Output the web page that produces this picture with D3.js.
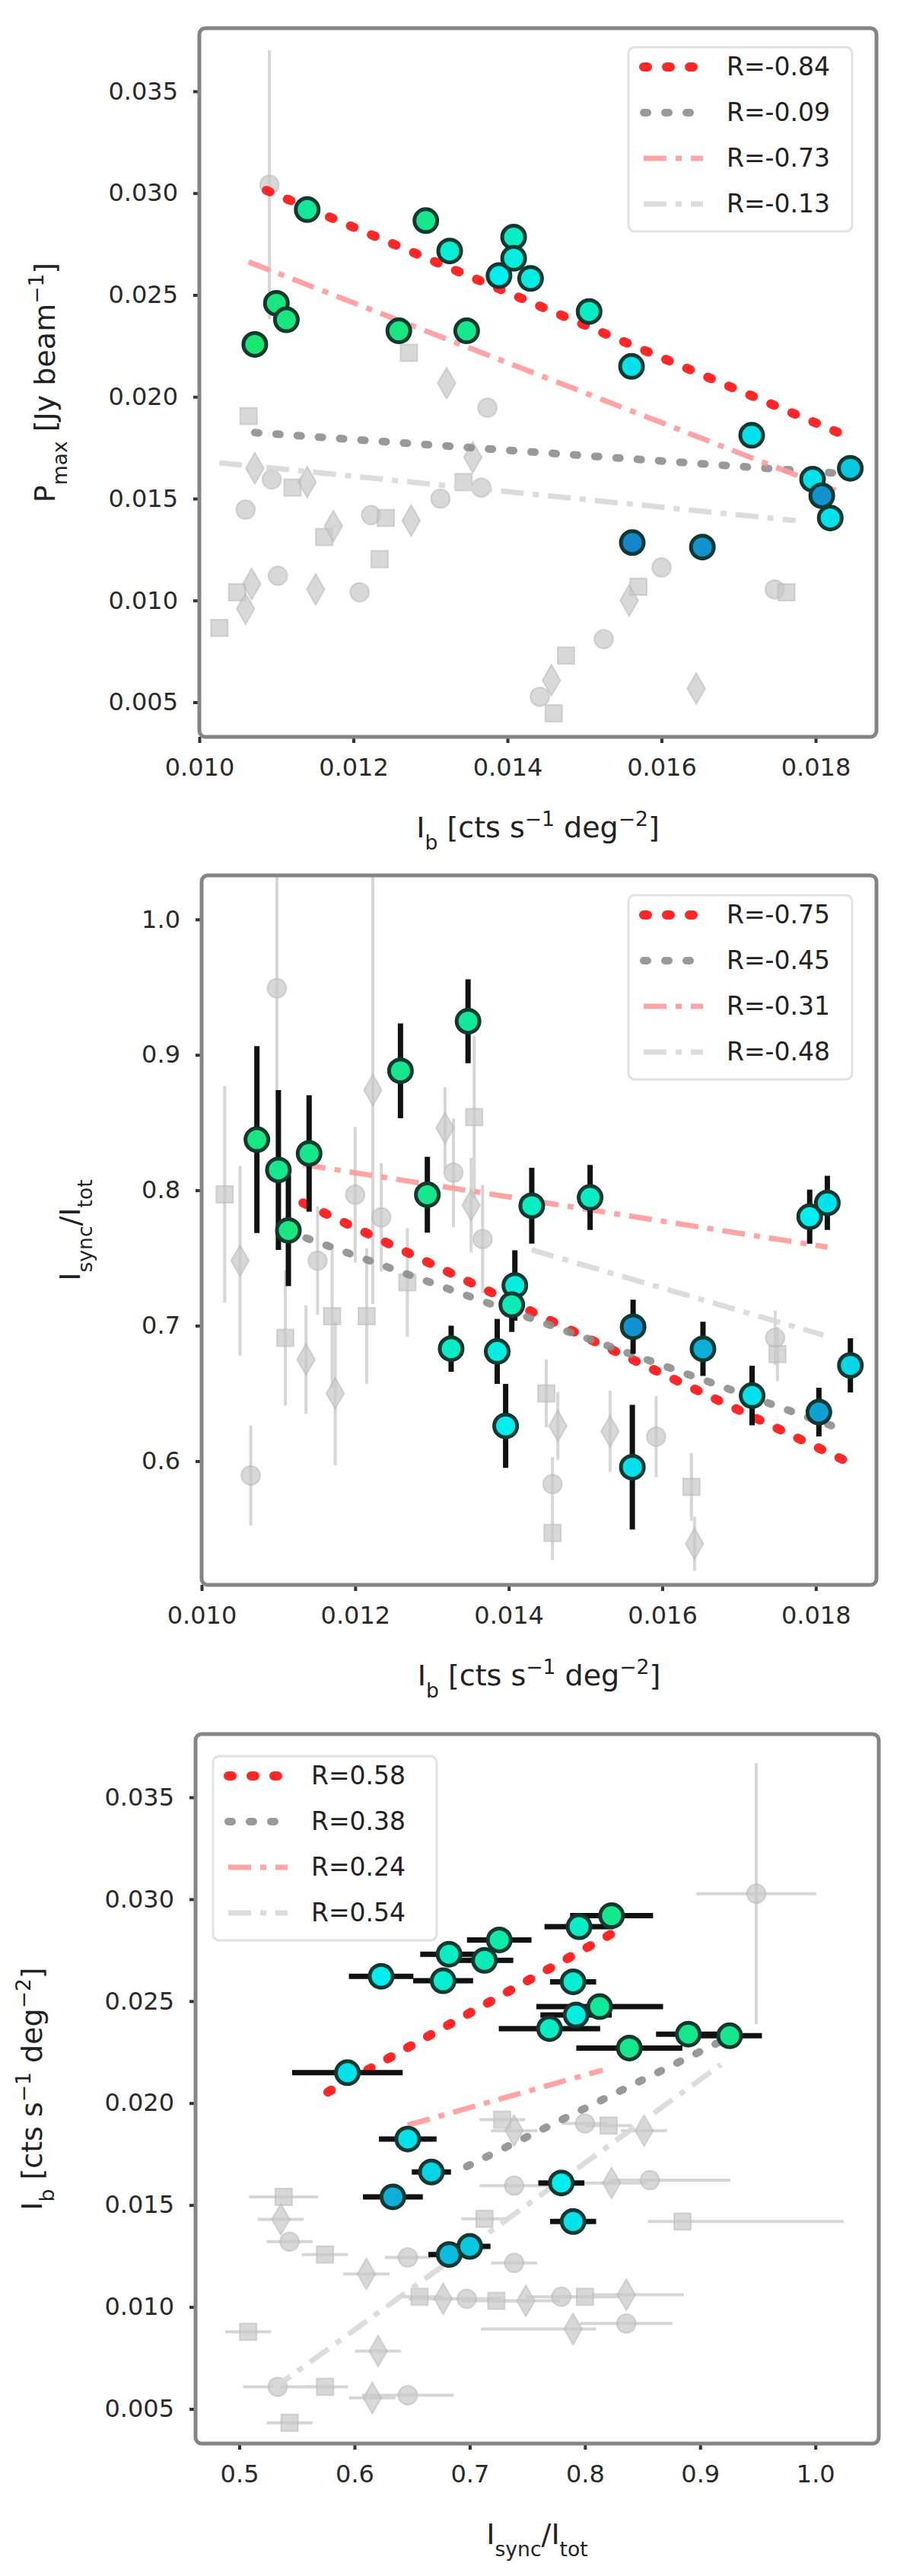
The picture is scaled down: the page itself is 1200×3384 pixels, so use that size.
<!DOCTYPE html>
<meta charset="utf-8">
<style>
body { margin: 0; background: #fff; }
.tick text { font: 32px "DejaVu Sans", sans-serif; fill: #2a2a2a; }
.tick line { stroke: #333; stroke-width: 4px; }
.domain { display: none; }
.lab { font: 38px "DejaVu Sans", sans-serif; fill: #222; }
.leg { font: 33px "DejaVu Sans", sans-serif; fill: #222; }
</style>
<body>
<script src="https://d3js.org/d3.v7.min.js"></script>
<script>

// ---------- panel 1 : Pmax vs I_b ----------
var p1X = [0.01072,0.01100,0.01113,0.01140,0.01259,0.01294,0.01325,0.01347,0.01389,0.01408,0.01408,0.01430,0.01506,0.01561,0.01717,0.01796,0.01808,0.01819,0.01845,0.01562,0.01653];
var p1Y = [0.02257,0.02459,0.02378,0.02919,0.02324,0.02865,0.02716,0.02324,0.02595,0.02784,0.02680,0.02581,0.02419,0.02149,0.01811,0.01595,0.01514,0.01405,0.01649,0.01284,0.01262];
var p1C = [0.05,0.1,0.1,0.2,0.1,0.15,0.4,0.15,0.5,0.35,0.45,0.45,0.35,0.55,0.55,0.55,0.85,0.55,0.65,0.9,0.85];
var g1X = [0.01091,0.01272,0.01321,0.01374,0.01064,0.01072,0.01094,0.01121,0.01140,0.01060,0.01162,0.01174,0.01223,0.01242,0.01275,0.01313,0.01343,0.01355,0.01366,0.01234,0.01151,0.01208,0.01049,0.01068,0.01102,0.01026,0.01060,0.01600,0.01570,0.01558,0.01525,0.01476,0.01457,0.01442,0.01460,0.01645,0.01747,0.01762];
var g1Y = [0.03041,0.02216,0.02067,0.01946,0.01905,0.01649,0.01594,0.01554,0.01581,0.01446,0.01311,0.01365,0.01419,0.01405,0.01392,0.01500,0.01581,0.01703,0.01554,0.01203,0.01054,0.01040,0.01040,0.01081,0.01121,0.00865,0.00959,0.01162,0.01067,0.01000,0.00810,0.00729,0.00608,0.00527,0.00446,0.00567,0.01054,0.01040];
var g1YErr = [0.0066,0,0,0,0,0,0,0,0,0,0,0,0,0,0,0,0,0,0,0,0,0,0,0,0,0,0,0,0,0,0,0,0,0,0,0,0,0];
var fit1X = [[0.01087,0.01838],[0.01072,0.01838],[0.01064,0.01826],[0.01026,0.01774]];
var fit1Y = [[0.03014,0.01811],[0.01824,0.01622],[0.02662,0.01540],[0.01676,0.01392]];
var leg1 = ["R=-0.84","R=-0.09","R=-0.73","R=-0.13"];

// ---------- panel 2 : ratio vs I_b ----------
var p2X = [0.01072,0.01100,0.01113,0.01140,0.01259,0.01294,0.01325,0.01347,0.01385,0.01396,0.01408,0.01404,0.01430,0.01506,0.01562,0.01561,0.01653,0.01717,0.01792,0.01815,0.01804,0.01845];
var p2Y = [0.8374,0.815,0.7703,0.8272,0.8882,0.7967,0.683,0.9248,0.681,0.626,0.7297,0.7154,0.7886,0.7947,0.6992,0.5955,0.6829,0.6484,0.7805,0.7907,0.6362,0.6707];
var p2YErr = [0.069,0.059,0.041,0.043,0.035,0.028,0.017,0.031,0.024,0.031,0.026,0.02,0.028,0.024,0.02,0.046,0.02,0.022,0.02,0.02,0.018,0.02];
var p2C = [0.1,0.15,0.1,0.15,0.15,0.15,0.35,0.2,0.45,0.5,0.45,0.3,0.35,0.35,0.85,0.55,0.75,0.55,0.5,0.55,0.8,0.6];
var g2X = [0.01098,0.01030,0.01050,0.01064,0.01109,0.01136,0.01151,0.01170,0.01174,0.01200,0.01215,0.01223,0.01234,0.01268,0.01317,0.01328,0.01355,0.01351,0.01366,0.01449,0.01464,0.01457,0.01457,0.01532,0.01592,0.01638,0.01642,0.01747,0.01750];
var g2Y = [0.9492,0.797,0.748,0.5894,0.691,0.675,0.748,0.707,0.650,0.7967,0.707,0.874,0.780,0.732,0.846,0.813,0.854,0.789,0.764,0.650,0.626,0.583,0.547,0.622,0.618,0.581,0.539,0.691,0.679];
var g2YErr = [0.083,0.08,0.07,0.037,0.05,0.04,0.04,0.053,0.053,0.05,0.05,0.158,0.04,0.04,0.03,0.04,0.06,0.035,0.04,0.025,0.025,0.02,0.02,0.03,0.03,0.025,0.02,0.02,0.02];
var fit2X = [[0.01132,0.01841],[0.01110,0.01841],[0.01132,0.01815],[0.01430,0.01810]];
var fit2Y = [[0.7907,0.5996],[0.770,0.622],[0.819,0.758],[0.756,0.693]];
var leg2 = ["R=-0.75","R=-0.45","R=-0.31","R=-0.48"];

// ---------- panel 3 : Pmax vs ratio ----------
var p3X = [0.5938,0.6231,0.6769,0.6820,0.7128,0.7256,0.7949,0.8231,0.7897,0.8128,0.7923,0.7692,0.8385,0.8897,0.9256,0.6462,0.6667,0.6333,0.7795,0.7897,0.6821,0.7000];
var p3Y = [0.02149,0.02622,0.02600,0.02730,0.02700,0.02800,0.02865,0.02919,0.02595,0.02473,0.02432,0.02365,0.02270,0.02338,0.02330,0.01824,0.01662,0.01540,0.01608,0.01419,0.01257,0.01297];
var p3XErr = [0.048,0.028,0.026,0.025,0.025,0.028,0.03,0.036,0.02,0.055,0.031,0.044,0.046,0.028,0.028,0.025,0.017,0.026,0.02,0.02,0.018,0.018];
var p3C = [0.55,0.5,0.4,0.35,0.3,0.25,0.35,0.15,0.4,0.2,0.45,0.35,0.15,0.15,0.15,0.55,0.6,0.75,0.5,0.55,0.7,0.65];
var g3X = [0.9487,0.7282,0.7385,0.8000,0.8205,0.8513,0.8564,0.8846,0.8231,0.7385,0.5385,0.5360,0.5436,0.5744,0.6103,0.6462,0.6564,0.6769,0.6974,0.7231,0.7487,0.7795,0.8000,0.8359,0.7385,0.7128,0.7897,0.8359,0.5077,0.6205,0.5333,0.5744,0.6154,0.6462,0.5436];
var g3Y = [0.03027,0.01919,0.01865,0.01900,0.01890,0.01865,0.01622,0.01419,0.01608,0.01595,0.01540,0.01430,0.01320,0.01257,0.01162,0.01243,0.01050,0.01040,0.01040,0.01030,0.01030,0.01050,0.01050,0.01060,0.01216,0.01432,0.00892,0.00919,0.00878,0.00784,0.00608,0.00608,0.00554,0.00567,0.00432];
var g3XLo = [0.052,0.02,0.02,0.02,0.02,0.02,0.035,0.03,0.03,0.03,0.03,0.02,0.02,0.02,0.02,0.02,0.02,0.03,0.03,0.03,0.03,0.03,0.03,0.03,0.02,0.02,0.08,0.04,0.02,0.02,0.03,0.02,0.02,0.04,0.02];
var g3XHi = [0.052,0.02,0.02,0.02,0.02,0.02,0.07,0.14,0.03,0.03,0.03,0.02,0.02,0.02,0.02,0.02,0.02,0.03,0.03,0.03,0.03,0.03,0.03,0.05,0.02,0.02,0.02,0.04,0.02,0.02,0.03,0.02,0.02,0.04,0.02];
var g3YErr = [0.0064,0,0,0,0,0,0,0,0,0,0,0,0,0,0,0,0,0,0,0,0,0,0,0,0,0,0,0,0,0,0,0,0,0,0];
var fit3X = [[0.5769,0.8256],[0.6974,0.9256],[0.6462,0.8154],[0.5282,0.9180]];
var fit3Y = [[0.02054,0.02838],[0.01689,0.02324],[0.01892,0.02162],[0.00594,0.02189]];
var leg3 = ["R=0.58","R=0.38","R=0.24","R=0.54"];

// ticks
var ibTicks = [0.010,0.012,0.014,0.016,0.018];
var pTicks = [0.005,0.010,0.015,0.020,0.025,0.030,0.035];
var rTicksY = [0.6,0.7,0.8,0.9,1.0];
var rTicksX = [0.5,0.6,0.7,0.8,0.9,1.0];

var fitStyle = [
  {c: "#ff2828", w: 12, d: "5 25", cap: "round", o: 1},
  {c: "#8e8e8e", w: 10, d: "5 23", cap: "round", o: 0.9},
  {c: "#ff9a9a", w: 7, d: "30 12 8 12", cap: "butt", o: 0.9},
  {c: "#d8d8d8", w: 7, d: "30 12 8 12", cap: "butt", o: 0.9}
];
var colour = d3.scaleLinear().domain([0, 0.5, 1]).range(["#1fe462", "#00efee", "#1a6cc2"]);

var svg = d3.select("body").append("svg")
    .attr("width", 1200).attr("height", 3384);

function sub(t, main, s) {
  t.append("tspan").text(main);
  t.append("tspan").attr("baseline-shift", "sub").attr("font-size", "70%").text(s);
}

function fitLine(sel, s) {
  return sel.attr("stroke", s.c).attr("stroke-width", s.w).attr("stroke-dasharray", s.d)
    .attr("stroke-linecap", s.cap).attr("stroke-opacity", s.o);
}

function panel(o) {
  var g = svg.append("g");
  var x = d3.scaleLinear().domain(o.xd).range([o.l, o.r]);
  var y = d3.scaleLinear().domain(o.yd).range([o.b, o.t]);

  g.append("g").attr("transform", "translate(0," + o.b + ")")
    .call(d3.axisBottom(x).tickValues(o.xt).tickFormat(d3.format(o.xf)).tickSize(8).tickPadding(20));
  g.append("g").attr("transform", "translate(" + o.l + ",0)")
    .call(d3.axisLeft(y).tickValues(o.yt).tickFormat(d3.format(o.yf)).tickSize(8).tickPadding(20));

  var plot = g.append("g");
  // gray points with error bars
  o.gx.forEach(function(v, i) {
    if (o.gye && o.gye[i] > 0)
      plot.append("line").attr("x1", x(v)).attr("x2", x(v))
        .attr("y1", y(o.gy[i] - o.gye[i])).attr("y2", y(o.gy[i] + o.gye[i]))
        .attr("stroke", "#d6d6d6").attr("stroke-width", 4);
    if (o.gxlo)
      plot.append("line").attr("y1", y(o.gy[i])).attr("y2", y(o.gy[i]))
        .attr("x1", x(v - o.gxlo[i])).attr("x2", x(v + o.gxhi[i]))
        .attr("stroke", "#d6d6d6").attr("stroke-width", 4);
  });
  plot.selectAll(".gp").data(o.gx).enter().append("path")
    .attr("d", function(d, i) { return d3.symbol().type(i % 3 == 1 ? d3.symbolSquare : (i % 3 == 2 ? d3.symbolDiamond : d3.symbolCircle)).size(480)(); })
    .attr("transform", function(d, i) { return "translate(" + x(d) + "," + y(o.gy[i]) + ")"; })
    .attr("fill", "#c8c8c8").attr("fill-opacity", 0.7)
    .attr("stroke", "#b4b4b4").attr("stroke-opacity", 0.5).attr("stroke-width", 2);

  // fit lines
  o.fx.forEach(function(fx, k) {
    fitLine(plot.append("line")
      .attr("x1", x(fx[0])).attr("x2", x(fx[1]))
      .attr("y1", y(o.fy[k][0])).attr("y2", y(o.fy[k][1])), fitStyle[k]);
  });

  // coloured points with error bars
  o.px.forEach(function(v, i) {
    if (o.pye)
      plot.append("line").attr("x1", x(v)).attr("x2", x(v))
        .attr("y1", y(o.py[i] - o.pye[i])).attr("y2", y(o.py[i] + o.pye[i]))
        .attr("stroke", "#111").attr("stroke-width", 7);
    if (o.pxe)
      plot.append("line").attr("y1", y(o.py[i])).attr("y2", y(o.py[i]))
        .attr("x1", x(v - o.pxe[i])).attr("x2", x(v + o.pxe[i]))
        .attr("stroke", "#111").attr("stroke-width", 7);
  });
  plot.selectAll(".cp").data(o.px).enter().append("circle")
    .attr("cx", function(d) { return x(d); })
    .attr("cy", function(d, i) { return y(o.py[i]); })
    .attr("r", 15)
    .attr("fill", function(d, i) { return colour(o.pc[i]); })
    .attr("stroke", "#0c3a32").attr("stroke-width", 5);

  // frame
  g.append("rect").attr("x", o.l).attr("y", o.t)
    .attr("width", o.r - o.l).attr("height", o.b - o.t).attr("rx", 8)
    .attr("fill", "none").attr("stroke", "#858585").attr("stroke-width", 5);

  // legend
  var lg = g.append("g");
  lg.append("rect").attr("x", o.lx - 14).attr("y", o.ly - 26)
    .attr("width", 294).attr("height", 242).attr("rx", 8)
    .attr("fill", "#fff").attr("fill-opacity", 0.85)
    .attr("stroke", "#e2e2e2").attr("stroke-width", 3);
  o.leg.forEach(function(t, k) {
    var yy = o.ly + k * 60;
    fitLine(lg.append("line").attr("x1", o.lx + 6).attr("x2", o.lx + 84)
      .attr("y1", yy).attr("y2", yy), fitStyle[k]);
    lg.append("text").attr("class", "leg").attr("x", o.lx + 115).attr("y", yy + 11).text(t);
  });

  // axis labels
  var xl = g.append("text").attr("class", "lab").attr("text-anchor", "middle")
    .attr("x", (o.l + o.r) / 2).attr("y", o.b + 132);
  o.xlab(xl);
  var yl = g.append("text").attr("class", "lab").attr("text-anchor", "middle")
    .attr("transform", "translate(" + o.ylx + "," + (o.t + o.b) / 2 + ") rotate(-90)");
  o.ylab(yl);
}

function ibLabel(t) {
  sub(t, "I", "b");
  t.append("tspan").text(" [cts s");
  t.append("tspan").attr("baseline-shift", "super").attr("font-size", "70%").text("\u22121");
  t.append("tspan").text(" deg");
  t.append("tspan").attr("baseline-shift", "super").attr("font-size", "70%").text("\u22122");
  t.append("tspan").text("]");
}
function pLabel(t) {
  sub(t, "P", "max");
  t.append("tspan").text(" [Jy beam");
  t.append("tspan").attr("baseline-shift", "super").attr("font-size", "70%").text("\u22121");
  t.append("tspan").text("]");
}
function rLabel(t) {
  sub(t, "I", "sync");
  t.append("tspan").text("/");
  sub(t, "I", "tot");
}

panel({l: 262, r: 1152, t: 37, b: 968, xd: [0.0100, 0.01879], yd: [0.0033, 0.0381],
  xt: ibTicks, yt: pTicks, xf: ".3f", yf: ".3f",
  px: p1X, py: p1Y, pc: p1C, gx: g1X, gy: g1Y, gye: g1YErr,
  fx: fit1X, fy: fit1Y, leg: leg1, lx: 840, ly: 88, xlab: ibLabel, ylab: pLabel, ylx: 72});

panel({l: 265, r: 1152, t: 1150, b: 2082, xd: [0.0100, 0.01879], yd: [0.5086, 1.0325],
  xt: ibTicks, yt: rTicksY, xf: ".3f", yf: ".1f",
  px: p2X, py: p2Y, pc: p2C, pye: p2YErr, gx: g2X, gy: g2Y, gye: g2YErr,
  fx: fit2X, fy: fit2Y, leg: leg2, lx: 840, ly: 1202, xlab: ibLabel, ylab: rLabel, ylx: 105});

panel({l: 257, r: 1155, t: 2278, b: 3210, xd: [0.462, 1.055], yd: [0.0033, 0.0381],
  xt: rTicksX, yt: pTicks, xf: ".1f", yf: ".3f",
  px: p3X, py: p3Y, pc: p3C, pxe: p3XErr, gx: g3X, gy: g3Y, gye: g3YErr, gxlo: g3XLo, gxhi: g3XHi,
  fx: fit3X, fy: fit3Y, leg: leg3, lx: 294, ly: 2333, xlab: rLabel, ylab: ibLabel, ylx: 55});

</script>
</body>
